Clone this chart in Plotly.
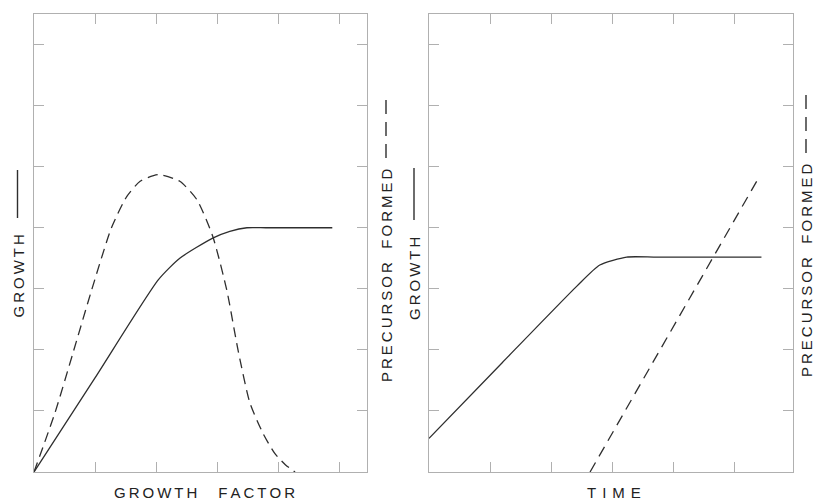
import plotly.graph_objects as go

# ---- data (axis units: one tick interval = 1) ----
# Left panel: growth and precursor formed against growth factor
growth_factor_x = [0, 1.0, 2.04, 2.39, 2.93, 3.21, 3.49, 3.8, 4.3, 4.89]
growth_vs_factor = [0, 1.54, 3.15, 3.50, 3.83, 3.94, 4.00, 4.00, 4.00, 4.00]

precursor_factor_x = [0, 0.344, 0.645, 0.945, 1.27, 1.52, 1.74, 2.04, 2.39,
                      2.67, 2.93, 3.16, 3.35, 3.54, 3.76, 3.95, 4.12, 4.28]
precursor_vs_factor = [0, 0.97, 1.97, 2.98, 4.0, 4.51, 4.76, 4.87, 4.76,
                       4.46, 3.86, 2.98, 1.97, 1.13, 0.62, 0.30, 0.12, 0.0]

# Right panel: growth and precursor formed against time
time_x = [0, 1.2, 2.42, 2.80, 3.24, 3.7, 4.3, 5.45]
growth_vs_time = [0.55, 1.79, 3.04, 3.39, 3.52, 3.52, 3.52, 3.52]

precursor_time_x = [2.64, 5.40]
precursor_vs_time = [0, 4.81]

# ---- labels ----
ts = "\u2009"          # thin space used as letter spacing


def spaced(word):
    return ts.join(word)


growth_text = spaced("GROWTH")
precursor_text = spaced("PRECURSOR") + ts + "\u2002" + ts + spaced("FORMED")
x_label_left = spaced("GROWTH") + ts + "\u2003" + ts + spaced("FACTOR")
x_label_right = (ts + ts).join("TIME")

W, H = 815, 502
INK = "#2e2e2e"
AXIS = "#b0b0b0"
FONT = dict(family="Liberation Sans, Arial, sans-serif", size=15, color="#222")

fig = go.Figure()

line_solid = dict(color=INK, width=1.3, shape="spline", smoothing=0.6)
line_dash = dict(color=INK, width=1.3, shape="spline", smoothing=0.6,
                 dash="10px,6px")

fig.add_trace(go.Scatter(x=growth_factor_x, y=growth_vs_factor, mode="lines",
                         line=line_solid, xaxis="x", yaxis="y"))
fig.add_trace(go.Scatter(x=precursor_factor_x, y=precursor_vs_factor,
                         mode="lines", line=line_dash, xaxis="x", yaxis="y"))
fig.add_trace(go.Scatter(x=time_x, y=growth_vs_time, mode="lines",
                         line=line_solid, xaxis="x2", yaxis="y2"))
fig.add_trace(go.Scatter(x=precursor_time_x, y=precursor_vs_time,
                         mode="lines",
                         line=dict(color=INK, width=1.3, dash="11px,7px"),
                         xaxis="x2", yaxis="y2"))

axis_common = dict(showline=True, linecolor=AXIS, linewidth=1, mirror="ticks",
                   ticks="inside", ticklen=10, tickcolor=AXIS, tickwidth=1,
                   showticklabels=False, showgrid=False, zeroline=False,
                   tick0=0, dtick=1, fixedrange=True)

y_dom = [(H - 472) / H, (H - 14) / H]

fig.update_layout(
    width=W, height=H,
    margin=dict(l=0, r=0, t=0, b=0),
    paper_bgcolor="white", plot_bgcolor="white",
    showlegend=False,
    xaxis=dict(domain=[34 / W, 367 / W], range=[0, 333 / 61], anchor="y",
               **axis_common),
    yaxis=dict(domain=y_dom, range=[0, 7.5], anchor="x", **axis_common),
    xaxis2=dict(domain=[429 / W, 793 / W], range=[0, 364 / 61], anchor="y2",
                **axis_common),
    yaxis2=dict(domain=y_dom, range=[0, 7.5], anchor="x2", **axis_common),
)


def label(text, px, py, angle=0):
    fig.add_annotation(text=text, x=px / W, y=1 - py / H, xref="paper",
                       yref="paper", showarrow=False, textangle=angle,
                       xanchor="center", yanchor="middle", font=FONT)


def key_line(px, top, bottom, dashed=False):
    """Vertical line-style key drawn next to a rotated axis title."""
    fig.add_shape(type="line", xref="paper", yref="paper",
                  x0=px / W, x1=px / W, y0=1 - top / H, y1=1 - bottom / H,
                  line=dict(color=INK, width=1.4,
                            dash="14px,8px" if dashed else "solid"))


label(growth_text, 17.5, 276, -90)
key_line(17.5, 170, 218)
label(precursor_text, 386, 275, -90)
key_line(386, 100, 158, dashed=True)

label(growth_text, 414, 278, -90)
key_line(414, 168, 220)
label(precursor_text, 806, 270, -90)
key_line(806, 95, 153, dashed=True)

label(x_label_left, 204, 492.5)
label(x_label_right, 614, 492.5)

fig.write_html("out.html")
